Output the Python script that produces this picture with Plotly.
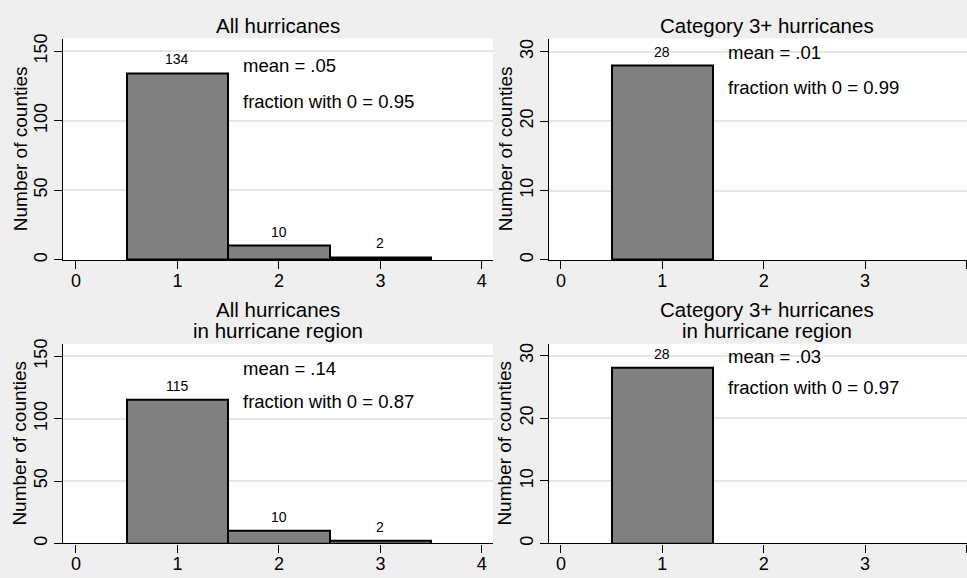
import plotly.graph_objects as go

W, H = 967, 578

# ---- data ----
categories = [1, 2, 3]
all_counts = [134, 10, 2]
cat3_categories = [1]
cat3_counts = [28]
all_region_counts = [115, 10, 2]
cat3_region_counts = [28]

panel_titles = [["All hurricanes"], ["Category 3+ hurricanes"],
                ["All hurricanes", "in hurricane region"],
                ["Category 3+ hurricanes", "in hurricane region"]]
mean_texts = ["mean = .05", "mean = .01", "mean = .14", "mean = .03"]
frac_texts = ["fraction with 0 = 0.95", "fraction with 0 = 0.99",
              "fraction with 0 = 0.87", "fraction with 0 = 0.97"]
x_ticks = [0, 1, 2, 3, 4]
y_ticks_all = [0, 50, 100, 150]
y_ticks_cat3 = [0, 10, 20, 30]
y_title = "Number of counties"

FONT = "Liberation Sans, Arial, Helvetica, sans-serif"
BG = "#efefef"
GRID = "#e6e6e6"

panels = [
    dict(x=categories, y=all_counts, xdom=(63, 493), ydom=(34, 258), xr=[-0.128, 4.11], yr=[0, 159],
         yt=y_ticks_all, mean_y=140, frac_y=114, title_x=278, title_y=[21], ytitle_x=20),
    dict(x=cat3_categories, y=cat3_counts, xdom=(549, 967), ydom=(34, 258), xr=[-0.118, 4.006], yr=[0, 31.9],
         yt=y_ticks_cat3, mean_y=29.9, frac_y=24.9, title_x=767, title_y=[21], ytitle_x=505),
    dict(x=categories, y=all_region_counts, xdom=(63, 493), ydom=(343, 545), xr=[-0.128, 4.11], yr=[0, 160],
         yt=y_ticks_all, mean_y=140, frac_y=114, title_x=278, title_y=[308, 329], ytitle_x=20),
    dict(x=cat3_categories, y=cat3_region_counts, xdom=(549, 967), ydom=(343, 545), xr=[-0.118, 4.006], yr=[0, 31.9],
         yt=y_ticks_cat3, mean_y=29.9, frac_y=24.9, title_x=767, title_y=[308, 329], ytitle_x=505),
]

fig = go.Figure()
annotations = []
layout = {}
for i, p in enumerate(panels):
    n = "" if i == 0 else str(i + 1)
    xa, ya = "x" + n, "y" + n
    fig.add_trace(go.Bar(x=p["x"], y=p["y"], width=1.0, xaxis=xa, yaxis=ya,
                         marker=dict(color="#808080", line=dict(color="#000000", width=2)),
                         showlegend=False, hoverinfo="x+y"))
    layout["xaxis" + n] = dict(
        domain=[p["xdom"][0] / W, p["xdom"][1] / W], anchor=ya, range=p["xr"],
        tickvals=x_ticks, ticks="outside", ticklen=8, tickwidth=1.3, tickcolor="#000",
        ticklabelstandoff=-4,
        showline=True, linecolor="#000", linewidth=1.3, showgrid=False, zeroline=False,
        tickfont=dict(size=18, color="#000", family=FONT), fixedrange=True)
    layout["yaxis" + n] = dict(
        domain=[1 - p["ydom"][1] / H, 1 - p["ydom"][0] / H], anchor=xa, range=p["yr"],
        tickvals=p["yt"], ticks="outside", ticklen=8, tickwidth=1.3, tickcolor="#000",
        tickangle=-90, showline=True, linecolor="#000", linewidth=1.3,
        showgrid=True, gridcolor=GRID, gridwidth=1.5, zeroline=False,
        tickfont=dict(size=18, color="#000", family=FONT), fixedrange=True)
    # bar value labels
    for cx, cy in zip(p["x"], p["y"]):
        annotations.append(dict(x=cx, y=cy, xref=xa, yref=ya, text=str(cy), showarrow=False,
                                yanchor="bottom", yshift=4, font=dict(size=14, color="#000", family=FONT)))
    # stats text
    annotations.append(dict(x=1.63, y=p["mean_y"], xref=xa, yref=ya, text=mean_texts[i], showarrow=False,
                            xanchor="left", yanchor="middle", font=dict(size=18.5, color="#000", family=FONT)))
    annotations.append(dict(x=1.63, y=p["frac_y"], xref=xa, yref=ya, text=frac_texts[i], showarrow=False,
                            xanchor="left", yanchor="middle", font=dict(size=18.5, color="#000", family=FONT)))
    # panel titles (one annotation per line)
    for line, ty in zip(panel_titles[i], p["title_y"]):
        annotations.append(dict(x=p["title_x"] / W, y=1 - ty / H, xref="paper", yref="paper",
                                text=line, showarrow=False, xanchor="center", yanchor="middle",
                                font=dict(size=20.5, color="#000", family=FONT)))
    # y-axis title
    annotations.append(dict(x=p["ytitle_x"] / W, y=1 - (p["ydom"][0] + p["ydom"][1]) / 2 / H,
                            xref="paper", yref="paper", text=y_title, showarrow=False, textangle=-90,
                            xanchor="center", yanchor="middle", font=dict(size=19, color="#000", family=FONT)))

# white plot backgrounds
shapes = []
for i, p in enumerate(panels):
    n = "" if i == 0 else str(i + 1)
    shapes.append(dict(type="rect", xref="x" + n + " domain", yref="y" + n + " domain",
                       x0=0, x1=1, y0=0, y1=1, fillcolor="#ffffff", line=dict(width=0), layer="below"))

fig.update_layout(**layout)
fig.update_layout(width=W, height=H, margin=dict(l=0, r=0, t=0, b=0),
                  paper_bgcolor=BG, plot_bgcolor="rgba(0,0,0,0)",
                  annotations=annotations, shapes=shapes, bargap=0,
                  font=dict(family=FONT, color="#000"))
fig.write_html("out.html", config={"displayModeBar": False},
               post_script="document.body.style.margin='0px';document.body.style.overflow='hidden';")
